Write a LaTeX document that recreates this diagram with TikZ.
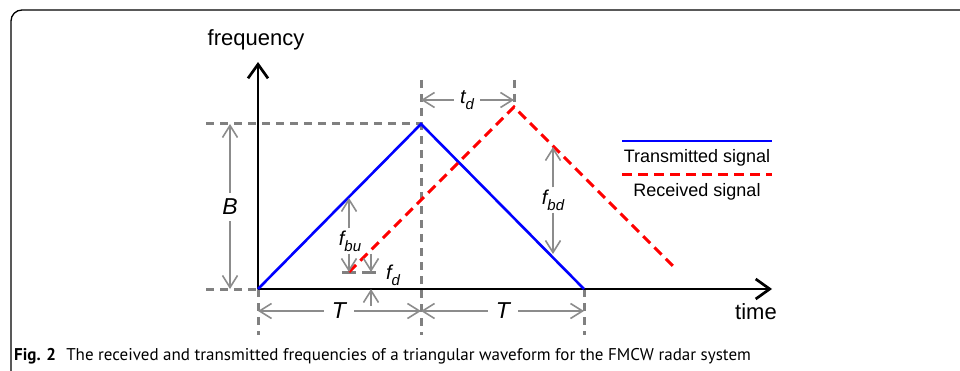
\documentclass[tikz,border=0pt]{standalone}
\usepackage{fontspec}
\setmainfont{Liberation Sans}
\newfontfamily\capfont{PT Sans}
\usetikzlibrary{arrows.meta}
\newcommand{\fsub}[2]{#1\raisebox{-0.3em}{\fontsize{15}{16}\selectfont #2}}
\begin{document}
\begin{tikzpicture}[x=1pt,y=-1pt,
  axis/.style={black,line width=2.7pt, -{Straight Barb[length=14pt,width=20pt,line width=2.7pt]}},
  tx/.style={blue, line width=2.6pt},
  rx/.style={red, line width=3pt, dash pattern=on 10pt off 6pt},
  guide/.style={draw=black!50, line width=3pt, dash pattern=on 8pt off 6pt},
  dim/.style={draw=black!45, line width=1.6pt, -{Straight Barb[length=12pt,width=15pt,line width=1.6pt]}},
  lbl/.style={font=\fontsize{23}{25}\selectfont\itshape, inner sep=2pt},
  slbl/.style={font=\fontsize{20}{22}\selectfont\itshape, inner sep=2pt},
  axlbl/.style={font=\fontsize{22}{24}\selectfont, inner sep=0pt},
  leg/.style={font=\fontsize{18}{20}\selectfont, inner sep=0pt},
]
\useasboundingbox (0,0) rectangle (960,371);
\begin{scope}
  \clip (0,0) rectangle (960,371);
  \draw[line width=1.3pt, rounded corners=11pt] (11,400) -- (11,10) -- (1000,10);
\end{scope}
% key points
\coordinate (O) at (258,289);
\coordinate (P) at (421,124);
\coordinate (E) at (584,289);
\coordinate (R0) at (349,272);
\coordinate (RP) at (514,107);
\coordinate (RE) at (674,267);
\coordinate (Ytip) at (258,62);
\coordinate (Xtip) at (772,289);
% guide lines
\draw[guide] (206,124) -- (P);
\draw[guide] (206,289) -- (O);
\draw[guide] (421,80) -- (421,335);
\draw[guide] (514,80) -- (RP);
\draw[guide] (O) -- (258,335);
\draw[guide] (E) -- (584,335);
\draw[guide, dash pattern=on 14pt off 6pt] (342,272) -- (378,272);
% axes
\draw[axis] (O) -- (Ytip);
\draw[axis] (O) -- (Xtip);
\node[axlbl, anchor=base] (flab) at (256,46) {frequency};
\node[axlbl, anchor=base] (tlab) at (756,319) {time};
% signals
\draw[tx] (O) -- (P) -- (E);
\draw[rx] (R0) -- (RP) -- (RE);
% B
\node[lbl, inner ysep=6pt] (B) at (230,207) {B};
\draw[dim] (B) -- (230,124);
\draw[dim] (B) -- (230,289);
% T
\node[lbl, inner xsep=8pt] (T1) at (339,311) {T};
\draw[dim] (T1) -- (258,311);
\draw[dim] (T1) -- (421,311);
\node[lbl, inner xsep=8pt] (T2) at (503,311) {T};
\draw[dim] (T2) -- (421,311);
\draw[dim] (T2) -- (584,311);
% td
\node[slbl, inner xsep=6pt] (td) at (467,100) {\fsub{t}{d}};
\draw[dim] (td) -- (421,100);
\draw[dim] (td) -- (514,100);
% fbu
\node[slbl] (fbu) at (350,241) {\fsub{f}{bu}};
\draw[dim] (fbu.north -| 349,0) -- (349,198);
\draw[dim] (fbu.south -| 349,0) -- (349,272);
% fd
\node[slbl] (fd) at (393,275) {\fsub{f}{d}};
\coordinate (fdA) at (371,254);
\coordinate (fdB) at (371,306);
\draw[dim] (fdA) -- (371,272);
\draw[dim] (fdB) -- (371,289);
% fbd
\node[slbl] (fbd) at (553,200) {\fsub{f}{bd}};
\draw[dim] (fbd.north -| 553,0) -- (553,147);
\draw[dim] (fbd.south -| 553,0) -- (553,254);
% legend
\coordinate (L1a) at (622,141);
\coordinate (L1b) at (772,141);
\coordinate (L2a) at (622,175);
\coordinate (L2b) at (772,175);
\draw[tx] (L1a) -- (L1b);
\node[leg, anchor=base] (l1) at (697,163) {Transmitted signal};
\draw[rx] (L2a) -- (L2b);
\node[leg, anchor=base] (l2) at (697,197) {Received signal};
% caption
\node[anchor=base west, inner sep=0pt, font=\capfont\fontsize{17}{19}\selectfont] (cap) at (14,360)
  {\textbf{Fig. 2}\hspace{0.6em}The received and transmitted frequencies of a triangular waveform for the FMCW radar system};
\end{tikzpicture}
\end{document}
